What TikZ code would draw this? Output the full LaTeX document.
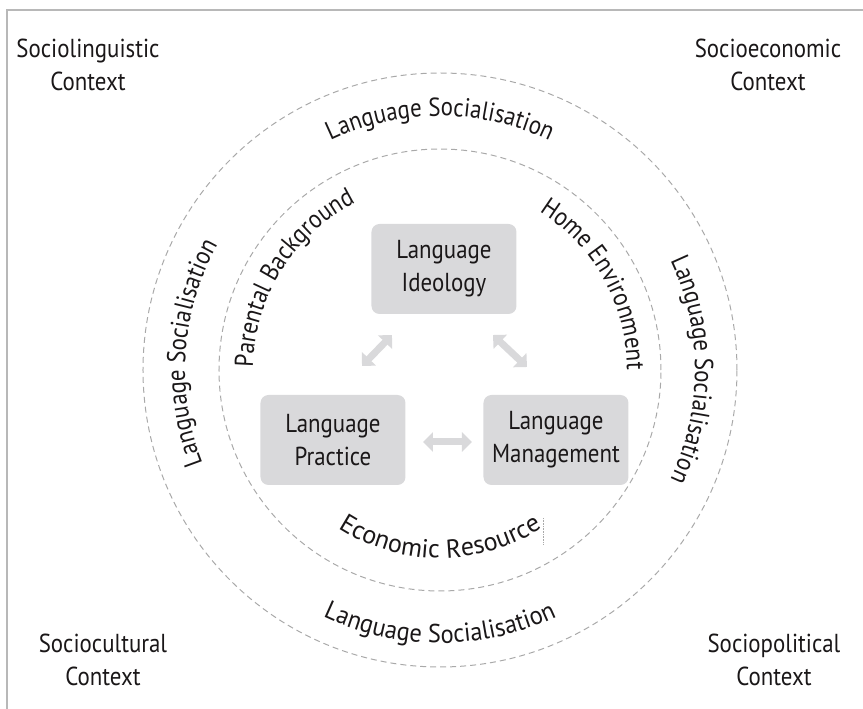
\documentclass[tikz,border=0pt]{standalone}
\usepackage{fontspec}
\setmainfont{PT Sans}[FakeStretch=0.88]
\newfontfamily\looseface{PT Sans}[FakeStretch=0.94]
\newfontfamily\looserface{PT Sans}[FakeStretch=1.0]
\usetikzlibrary{decorations.text,arrows.meta,positioning}

\definecolor{boxgray}{HTML}{D9D9DB}
\definecolor{ringgray}{HTML}{A9A9A9}
\definecolor{framegray}{HTML}{B8B8B8}
\definecolor{ink}{HTML}{1A1718}
\newcommand\ringfont{\fontsize{26}{33}\selectfont}

\begin{document}
\begin{tikzpicture}[x=1pt,y=1pt,
  block/.style={fill=boxgray,rounded corners=8pt,minimum width=145pt,
    minimum height=90pt,align=center,font=\ringfont,text=ink},
  context/.style={align=center,font=\ringfont,text=ink},
  ring/.style={draw=ringgray,line width=1pt,dash pattern=on 6pt off 4pt},
  twoway/.style={draw=boxgray,line width=7pt,
    {Triangle[length=10pt,width=19pt]}-{Triangle[length=10pt,width=19pt]}},
  alongwith/.style 2 args={decorate,decoration={text along path,text align=center,
    text color=ink,text={|#1|#2}}},
  along/.style={alongwith={\ringfont}{#1}}]
\useasboundingbox (-440,-339) rectangle (423,370);

% frame
\draw[framegray,line width=1.5pt] (-433,-339) |- (423,360);

% the two rings
\draw[ring] (0,0) circle[radius=297];
\draw[ring] (0,0) circle[radius=221];

% outer ring labels
\path[along={Language Socialisation}] (150:254) arc[start angle=150,end angle=30,radius=254];
\path[along={Language Socialisation}] (215:255) arc[start angle=215,end angle=137,radius=255];
\path[along={Language Socialisation}] (40:255) arc[start angle=40,end angle=-40,radius=255];
\path[alongwith={\looseface\ringfont}{Language Socialisation}] (230:273) arc[start angle=230,end angle=310,radius=273];

% inner ring labels
\path[along={Parental Background}] (192:187) arc[start angle=192,end angle=104,radius=187];
\path[along={Home Environment}] (77:187) arc[start angle=77,end angle=-19,radius=187];
\path[alongwith={\looserface\ringfont}{Economic Resource}] (225:188) arc[start angle=225,end angle=315,radius=188];
\draw[ringgray,densely dotted,line width=0.6pt] (103,-148) -- (103,-175);

% the three blocks
\node[block] (ideology) at (4,101) {Language\\Ideology};
\node[block] (practice) at (-107,-70) {Language\\Practice};
\node[block] (management) at (116,-70) {Language\\Management};

% arrows between blocks
\coordinate (il) at (-48,35);
\coordinate (pl) at (-78,4);
\coordinate (ir) at (53,35);
\coordinate (mr) at (87,3);
\coordinate (ph) at (-17,-72);
\coordinate (mh) at (32,-72);
\draw[twoway] (il) -- (pl);
\draw[twoway] (ir) -- (mr);
\draw[twoway] (ph) -- (mh);

% contexts in the corners
\node[context] (linguistic) at (-352,305) {Sociolinguistic\\Context};
\node[context] (economic) at (328,305) {Socioeconomic\\Context};
\node[context] (cultural) at (-337,-290) {Sociocultural\\Context};
\node[context] (political) at (334,-290) {Sociopolitical\\Context};
\end{tikzpicture}
\end{document}
